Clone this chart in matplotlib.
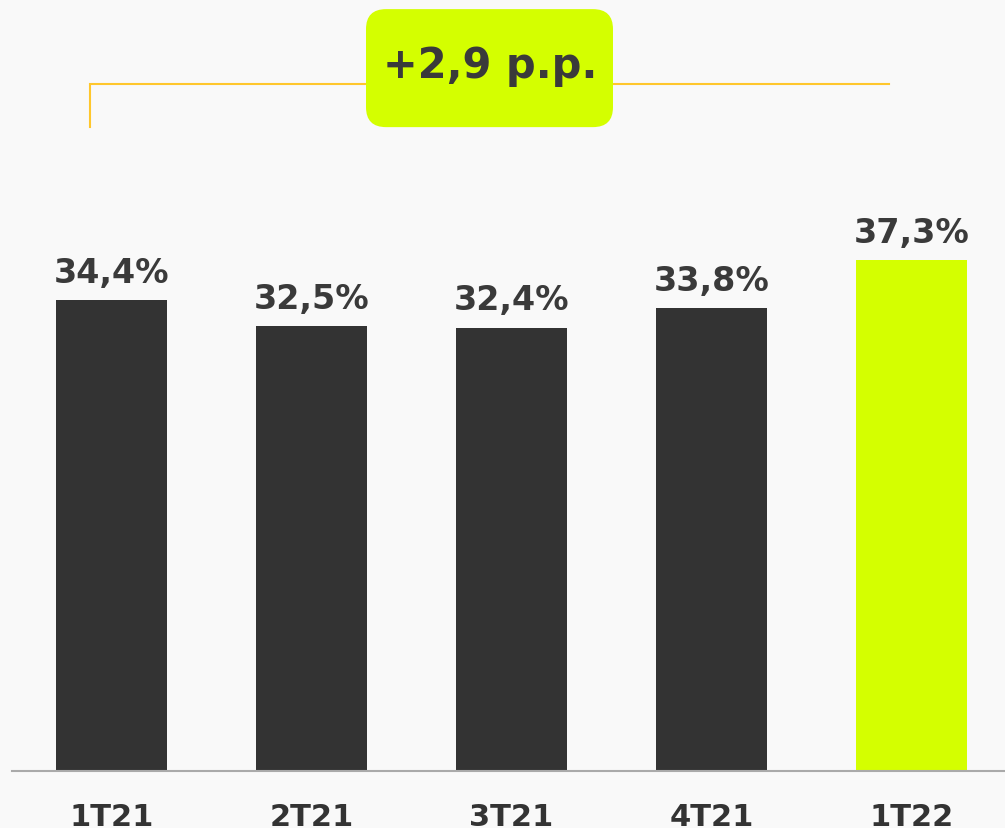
# margem trimestral 1T21-1T22
import numpy as np
import matplotlib.pyplot as plt
from matplotlib.patches import FancyBboxPatch

quarters = ['1T21', '2T21', '3T21', '4T21', '1T22']
values = [34.4, 32.5, 32.4, 33.8, 37.3]
value_labels = ['34,4%', '32,5%', '32,4%', '33,8%', '37,3%']
delta_label = '+2,9 p.p.'

bg = '#f9f9f9'
dark = '#333333'
lime = '#d4ff00'
text_color = '#3a3a3a'

fig = plt.figure(figsize=(10.05, 8.29), dpi=100, facecolor=bg)
ax = fig.add_axes([0, 0, 1, 1], facecolor=bg)

x = np.arange(len(quarters))
colors = [dark] * (len(quarters) - 1) + [lime]
bars = ax.bar(x, values, width=0.555, color=colors, zorder=2)

for b, lab in zip(bars, value_labels):
    ax.annotate(lab, (b.get_x() + b.get_width() / 2, b.get_height()),
                xytext=(0, 8), textcoords='offset points',
                ha='center', va='bottom', fontsize=24, fontweight='bold',
                color=text_color)

# px -> data: 200 px per category, 13.69 px per unit
ax.set_xlim(-0.5575, 4.4675)
ax.set_ylim(-4.16, 56.4)

# category labels sit right at the bottom edge
ax.set_xticks([])
ax.set_yticks([])
for xi, q in zip(x, quarters):
    ax.text(xi, -3.97, q, ha='center', va='baseline', fontsize=22,
            fontweight='bold', color='#333333', clip_on=False)
for s in ax.spines.values():
    s.set_visible(False)
ax.axhline(0, xmin=0.012, xmax=1, color='#aaaaaa', lw=1.5, zorder=3)

# bracket with the variation
bracket_y = 50.18
ax.plot([x[0] - 0.1075, x[0] - 0.1075, x[-1] - 0.1125],
        [47.04, bracket_y, bracket_y], color='#ffc72c', lw=1.5, zorder=1,
        solid_joinstyle='miter')
box = FancyBboxPatch((1.2725, 47.04), 1.235, 8.62,
                     boxstyle='round,pad=0,rounding_size=0.1',
                     mutation_aspect=14.6, facecolor=lime, edgecolor='none', zorder=3)
ax.add_patch(box)
ax.text(1.895, 51.6, delta_label, ha='center', va='center', fontsize=30,
        fontweight='bold', color=text_color, zorder=4)

fig.savefig('out.png', dpi=100, facecolor=bg)
